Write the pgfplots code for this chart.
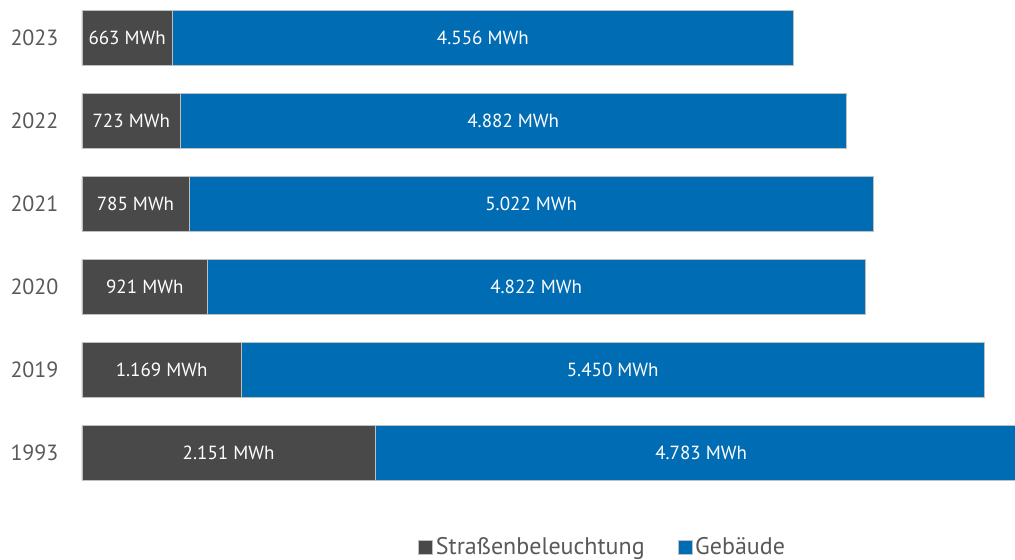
\documentclass[border=0pt]{standalone}
\usepackage{pgfplots}
\usepackage{pgfplotstable}
\pgfplotsset{compat=1.18}
\usetikzlibrary{calc}
\usepackage{fontspec}
\setmainfont{PT Sans}
\definecolor{sgrau}{HTML}{494949}
\definecolor{gblau}{HTML}{006CB4}
\definecolor{txtgrau}{HTML}{595959}
% y = position (0 = 1993 ... 5 = 2023), v = MWh
\pgfplotstableread{
y v
0 2151
1 1169
2 921
3 785
4 723
5 663
}\strassen
\pgfplotstableread{
y v
0 4783
1 5450
2 4822
3 5022
4 4882
5 4556
}\gebaeude
\begin{document}
\begin{tikzpicture}
\begin{axis}[
    name=ax,
    xbar stacked,
    scale only axis,
    width=945.9pt, height=494.5pt,
    xmin=0, xmax=6940,
    ymin=-0.5, ymax=5.458,
    bar width=0.66,
    clip mode=individual,
    axis line style={draw=none},
    xtick=\empty,
    ytick={0,1,2,3,4,5},
    yticklabels={\mbox{1993},\mbox{2019},\mbox{2020},\mbox{2021},\mbox{2022},\mbox{2023}},
    major tick length=0pt,
    yticklabel style={font=\fontsize{22}{26}\selectfont, text=txtgrau, xshift=-20pt},
    /pgf/number format/assume math mode=true,
    /pgf/number format/1000 sep={.},
    point meta={\thisrow{v}},
    nodes near coords={\pgfmathprintnumber{\pgfplotspointmeta}~MWh},
    every node near coord/.append style={font=\fontsize{19}{23}\selectfont, text=white,
        anchor=center},
    legend columns=2,
    legend style={at={(axis description cs:0.551,-0.106)}, anchor=center, draw=none,
        font=\fontsize{24}{28}\selectfont, text=txtgrau,
        /tikz/every even column/.style={column sep=30pt},
        nodes={inner xsep=3pt}},
    legend image code/.code={\fill[#1] (0pt,-7pt) rectangle (14pt,7pt);},
]
\addplot[fill=sgrau, draw=white!75!black, line width=0.5pt] table[x=v, y=y] {\strassen};
\addplot[fill=gblau, draw=white!75!black, line width=0.5pt] table[x=v, y=y] {\gebaeude};
\legend{Straßenbeleuchtung, Gebäude}
\end{axis}
\pgfresetboundingbox
\path[use as bounding box] ($(ax.south west)+(-82pt,-65.5pt)$) rectangle ($(ax.north west)+(933pt,0pt)$);
\end{tikzpicture}
\end{document}
